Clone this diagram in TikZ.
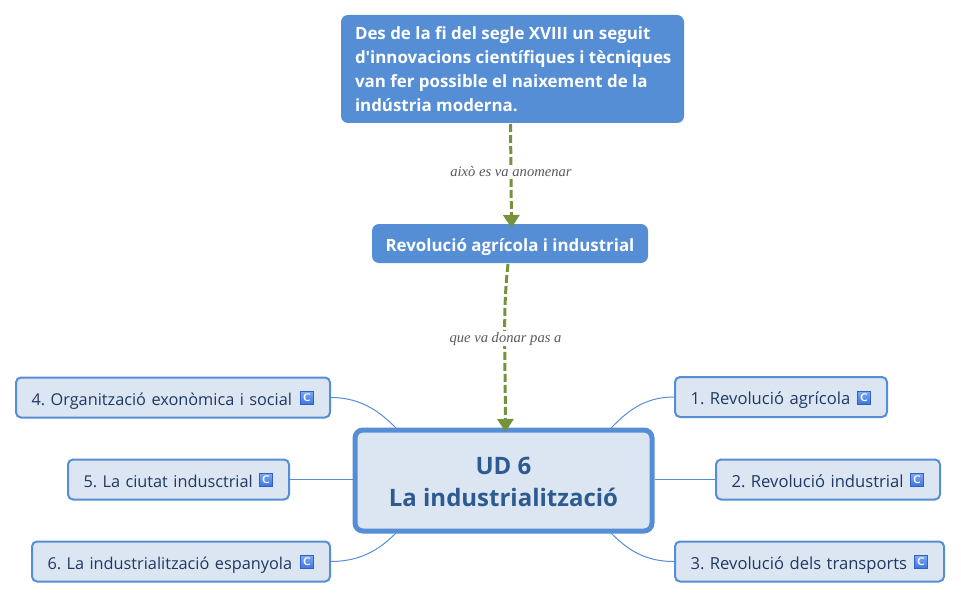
\documentclass[tikz,border=0pt]{standalone}
\usepackage{fontspec}
\setmainfont{Open Sans}
\newfontfamily\plainopen{Open Sans}
\newfontfamily\subfamily[WordSpace=0.82]{Open Sans}
\newfontfamily\labelfont{Liberation Serif}
\usetikzlibrary{arrows.meta,calc}
\definecolor{boxblue}{HTML}{558ED5}
\definecolor{paleblue}{HTML}{DCE6F2}
\definecolor{darktext}{HTML}{1F3864}
\definecolor{maintext}{HTML}{2C5A91}
\definecolor{linkgreen}{HTML}{76923C}
\definecolor{lablegrey}{HTML}{595959}
\definecolor{icontop}{HTML}{7FA8F0}
\definecolor{iconbot}{HTML}{3F74E0}
\definecolor{iconedge}{HTML}{2F5FC8}
\tikzset{
  x=1pt,y=-1pt,
  solidbox/.style={fill=boxblue,draw=none,rounded corners=7pt,text=white,font=\frenchspacing\fontsize{16.9}{24}\selectfont\bfseries,inner sep=0pt,align=left},
  subbox/.style={fill=paleblue,draw=boxblue,line width=2pt,rounded corners=5pt,text=darktext,font=\subfamily\frenchspacing\fontsize{16.6}{20}\selectfont,inner xsep=15.5pt,inner ysep=0pt,minimum height=40pt,align=left,anchor=center,text height=15pt,text depth=0pt},
  subboxleft/.style={subbox,font=\subfamily\frenchspacing\fontsize{16.3}{20}\selectfont},
  mainbox/.style={fill=paleblue,draw=boxblue,line width=5pt,rounded corners=8pt,text=maintext,font=\fontsize{24}{32}\selectfont\bfseries,align=center,minimum width=297pt,minimum height=101pt,inner sep=0pt},
  branch/.style={draw=boxblue,line width=1pt},
  link/.style={draw=linkgreen,line width=3pt,dash pattern=on 8pt off 3pt,-{Triangle[length=13pt,width=16pt,fill=linkgreen]}},
  linklabel/.style={fill=white,text=lablegrey,inner sep=1pt,font=\labelfont\itshape\fontsize{14.6}{16}\selectfont},
  cicon/.style={top color=icontop,bottom color=iconbot,draw=iconedge,line width=1pt,text=white,minimum size=13pt,inner sep=0pt,font=\fontsize{11}{11}\selectfont\bfseries\sffamily},
}
\begin{document}
\begin{tikzpicture}
\useasboundingbox (0,0) rectangle (961,599);
\node[solidbox,minimum width=343pt,minimum height=108pt] (top) at (512.5,69) {\hspace*{12pt}\raisebox{-2pt}{\parbox{327pt}{\raggedright Des de la fi del segle XVIII un seguit\\d{\plainopen\bfseries'}innovacions científiques i tècniques\\van fer possible el naixement de la\\indústria moderna.}}};
\node[solidbox,minimum width=276pt,minimum height=39pt,text height=15pt,text depth=0pt] (rev) at (510,243.5) {Revolució agrícola i industrial};
\node[mainbox] (main) at (503.5,480.5) {\rule{0pt}{21pt}UD 6\\La industrialització};

\node[subbox,minimum width=212pt,text width=181pt] (n1) at (781,397) {1. Revolució agrícola};
\node[subbox,minimum width=224pt,text width=193pt] (n2) at (828,479.5) {2. Revolució industrial};
\node[subbox,minimum width=269pt,text width=238pt] (n3) at (809.5,561.5) {3. Revolució dels transports};
\node[subboxleft,minimum width=314pt,text width=283pt] (n4) at (173,397.5) {4. Organització exonòmica i social};
\node[subboxleft,minimum width=221pt,text width=190pt] (n5) at (178.5,479.5) {5. La ciutat indusctrial};
\node[subboxleft,minimum width=298pt,text width=267pt] (n6) at (181,561.5) {6. La industrialització espanyola};

\node[cicon] (i1) at (864,398) {C};
\node[cicon] (i2) at (917,480) {C};
\node[cicon] (i3) at (921,562) {C};
\node[cicon] (i4) at (307,398) {C};
\node[cicon] (i5) at (266,480) {C};
\node[cicon] (i6) at (307,562) {C};

\coordinate (m1) at (611,428);
\coordinate (m3) at (611,533);
\coordinate (m4) at (396,428);
\coordinate (m6) at (396,533);
\draw[branch] (n1.west) .. controls +(-32,0) and +(14,-14) .. (m1);
\draw[branch] (n2.west) -- (main.east |- n2.west);
\draw[branch] (n3.west) .. controls +(-32,0) and +(14,14) .. (m3);
\draw[branch] (n4.east) .. controls +(32,0) and +(-14,-14) .. (m4);
\draw[branch] (n5.east) -- (main.west |- n5.east);
\draw[branch] (n6.east) .. controls +(32,0) and +(-14,14) .. (m6);

\coordinate (t1) at (510.5,124);
\coordinate (t2) at (511.5,228);
\coordinate (r1) at (508,264);
\coordinate (r2) at (505.5,432);
\draw[link] (t1) -- (t2);
\node[linklabel] (l1) at (511,171.5) {això es va anomenar};
\draw[link] (r1) .. controls (503,310) and (505,340) .. (r2);
\node[linklabel] (l2) at (505.5,338.5) {que va donar pas a};
\end{tikzpicture}
\end{document}
